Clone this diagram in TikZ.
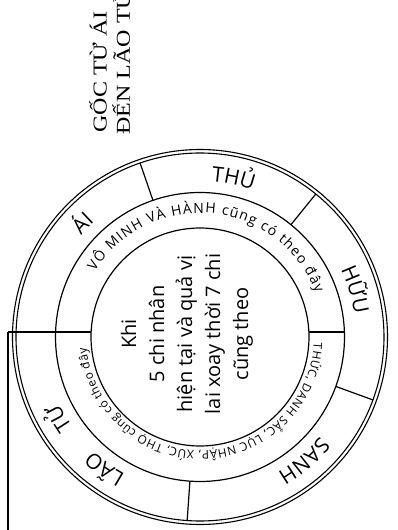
\documentclass[tikz,border=0pt]{standalone}
\usepackage{fontspec}
\usepackage{graphicx}
\setmainfont{Open Sans}
\newfontfamily\titlefont{Liberation Serif}
\usetikzlibrary{decorations.text}
\begin{document}
\begin{tikzpicture}[x=1pt,y=1pt,line width=1.2pt,
  ringline/.style={line width=1.1pt},
  titletext/.style={rotate=90,anchor=base west,inner sep=0pt,font=\titlefont\fontsize{24}{24}\selectfont},
  centertext/.style={rotate=90,align=center,inner sep=0pt,font=\fontsize{20}{28}\selectfont}
]
\useasboundingbox (-200,-193) rectangle (198,337);
\coordinate (c) at (0,0);
% circles
\draw[ringline] (c) circle[radius=187.5];
\draw[ringline] (c) circle[radius=184];
\draw (c) circle[radius=144.5];
\draw (c) circle[radius=109];
% spokes
\coordinate (lend) at (-192,5);
\coordinate (lbot) at (-192,-200);
\draw (lend) -- (-108.9,5);
\draw (lend) -- (lbot);
\draw (108.9,5) -- (144.4,5);
\draw (109:144.5) -- (109:184);
\draw (51:144.5) -- (51:184);
\draw (-20:144.5) -- (-20:184);
\draw (-94:144.5) -- (-94:184);
% outer labels
\path[decorate,decoration={text along path,text align=center,text={|\fontsize{21}{21}\selectfont|ÁI}}] (166:156) arc[start angle=166,end angle=106,radius=156];
\path[decorate,decoration={text along path,text align=center,text={|\fontsize{21}{21}\selectfont|THỦ}}] (108:156) arc[start angle=108,end angle=48,radius=156];
\path[decorate,decoration={text along path,text align=center,text={|\fontsize{21}{21}\selectfont|HỮU}}] (47:156) arc[start angle=47,end angle=-13,radius=156];
\path[decorate,decoration={text along path,text align=center,text={|\fontsize{21}{21}\selectfont|SANH}}] (-20:156) arc[start angle=-20,end angle=-80,radius=156];
\path[decorate,decoration={text along path,text align=center,text={|\fontsize{21}{21}\selectfont|LÃO}}] (264:156) arc[start angle=264,end angle=204,radius=156];
\path[decorate,decoration={text along path,text align=center,text={|\fontsize{21}{21}\selectfont|TỬ}}] (240:156) arc[start angle=240,end angle=180,radius=156];
% middle ring texts
\path[decorate,decoration={text along path,text align=fit to path,text={|\fontsize{14}{14}\selectfont|VÔ MINH VÀ HÀNH cũng có theo đây}}] (148:124) arc[start angle=148,end angle=21,radius=124];
\path[decorate,decoration={text along path,text align=fit to path,text={|\fontsize{11.8}{11.8}\selectfont|THỨC, DANH SẮC, LỤC NHẬP, XÚC, THỌ cũng có theo đây}}] (-3:114) arc[start angle=-3,end angle=-174.5,radius=114];
% center text
\node[centertext] (inner) at (-13,3) {Khi\\5 chi nhân\\hiện tại và quả vị\\lai xoay thời 7 chi\\cũng theo};
% title
\node[titletext] (t1) at (-93.3,204) {\scalebox{1}[0.82]{GỐC TỪ ÁI}};
\node[titletext] (t2) at (-70,202) {\scalebox{1}[0.82]{ĐẾN LÃO TỬ}};
\end{tikzpicture}
\end{document}
